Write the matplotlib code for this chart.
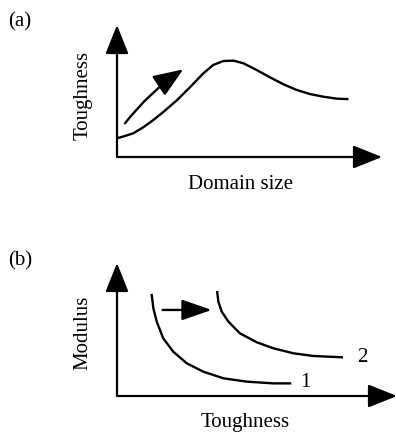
import matplotlib.pyplot as plt

plt.rcParams['font.family'] = ['Liberation Serif', 'DejaVu Serif']

W, H = 396, 432

# --- (a) toughness vs domain size ---
size_a = [0.0, 0.30, 0.62, 0.99, 1.37, 1.76, 2.27, 2.75, 3.26, 3.63, 4.01,
          4.39, 4.77, 5.27, 5.77, 6.28, 6.78, 7.28, 7.78, 8.29, 8.69]
tough_a = [1.42, 1.59, 1.80, 2.25, 2.80, 3.43, 4.32, 5.28, 6.34, 6.97, 7.27,
           7.30, 7.10, 6.59, 6.04, 5.51, 5.08, 4.77, 4.57, 4.42, 4.39]
trend_tail = (0.30, 2.55)
trend_tip = (2.50, 6.64)

# --- (b) modulus vs toughness, curves 1 and 2 ---
tough_1 = [1.24, 1.30, 1.42, 1.65, 2.01, 2.49, 3.08, 3.80, 4.63, 5.58, 6.18]
mod_1 = [7.59, 6.59, 5.59, 4.34, 3.33, 2.46, 1.83, 1.33, 1.08, 0.95, 0.95]
tough_2 = [3.58, 3.62, 3.74, 3.98, 4.39, 4.99, 5.58, 6.30, 7.01, 8.03]
mod_2 = [7.80, 7.09, 6.34, 5.59, 4.71, 4.04, 3.59, 3.21, 3.01, 2.91]
shift_tail = (1.63, 6.47)
shift_tip = (3.38, 6.47)
curve_labels = ['1', '2']
label_pos = [(6.55, 1.05), (8.57, 2.9)]

fig = plt.figure(figsize=(W / 100, H / 100), dpi=100)


def px_axes(left, top, right, bottom):
    # axes box given in pixel coordinates of the figure
    return fig.add_axes([left / W, 1 - bottom / H, (right - left) / W, (bottom - top) / H])


axis_style = dict(arrowstyle='-|>,head_length=1.0,head_width=0.4',
                  mutation_scale=18, lw=1.6, color='black',
                  shrinkA=0, shrinkB=0)


def draw_frame(ax):
    ax.set_xlim(0, 10)
    ax.set_ylim(0, 10)
    ax.axis('off')
    ax.annotate('', xy=(10, 0), xytext=(0, 0), arrowprops=axis_style,
                annotation_clip=False)
    ax.annotate('', xy=(0, 10), xytext=(0, 0), arrowprops=axis_style,
                annotation_clip=False)


ax_a = px_axes(117, 25, 382, 157)
draw_frame(ax_a)
ax_a.plot(size_a, tough_a, color='black', lw=1.7, solid_joinstyle='round')
ax_a.annotate('', xy=trend_tip, xytext=trend_tail,
              arrowprops=dict(arrowstyle='-|>,head_length=1.15,head_width=0.45',
                              mutation_scale=16, lw=1.7, color='black',
                              shrinkA=0, shrinkB=0,
                              connectionstyle='arc3,rad=-0.08'))

ax_b = px_axes(117, 263, 397, 396)
draw_frame(ax_b)
ax_b.plot(tough_1, mod_1, color='black', lw=1.7, solid_joinstyle='round')
ax_b.plot(tough_2, mod_2, color='black', lw=1.7, solid_joinstyle='round')
ax_b.annotate('', xy=shift_tip, xytext=shift_tail,
              arrowprops=dict(arrowstyle='-|>,head_length=1.15,head_width=0.4',
                              mutation_scale=16, lw=1.7, color='black',
                              shrinkA=0, shrinkB=0))
for lab, (x, y) in zip(curve_labels, label_pos):
    ax_b.text(x, y, lab, fontsize=15, ha='left', va='center')

# panel letters and axis titles
fig.text(8 / W, 1 - 22 / H, '(a)', fontsize=15, ha='left', va='center')
fig.text(83 / W, 1 - 95 / H, 'Toughness', fontsize=15, rotation=90,
         ha='center', va='center')
fig.text(241 / W, 1 - 185 / H, 'Domain size', fontsize=15, ha='center', va='center')

fig.text(8 / W, 1 - 261 / H, '(b)', fontsize=15, ha='left', va='center')
fig.text(83 / W, 1 - 333 / H, 'Modulus', fontsize=15, rotation=90,
         ha='center', va='center')
fig.text(245 / W, 1 - 423 / H, 'Toughness', fontsize=15, ha='center', va='center')

fig.savefig('out.png', dpi=100)
